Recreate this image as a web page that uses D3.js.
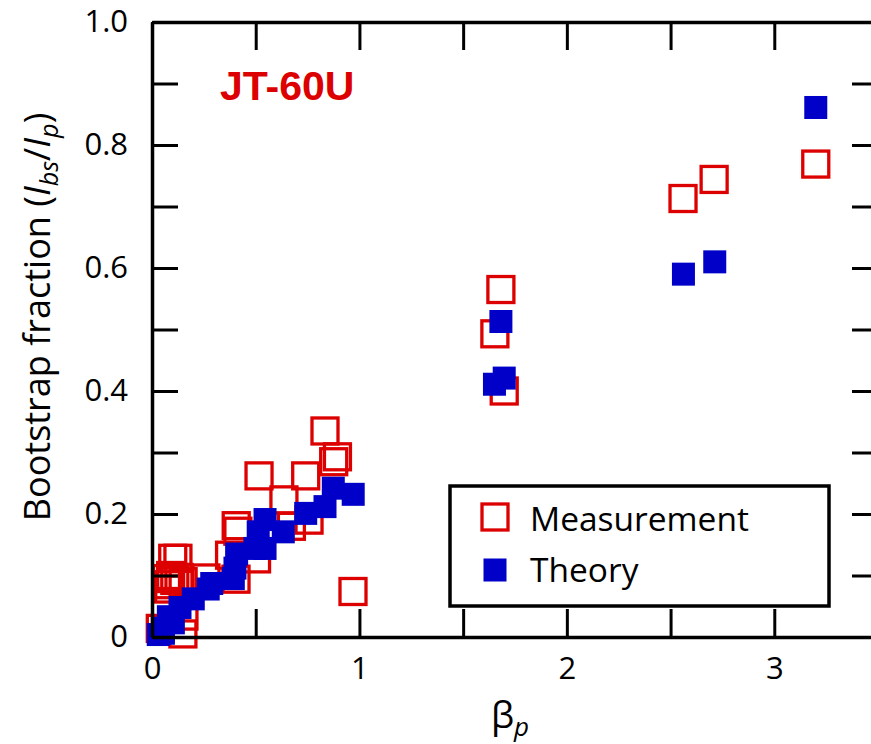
<!DOCTYPE html>
<html>
<head>
<meta charset="utf-8">
<script src="https://cdn.jsdelivr.net/npm/d3@7"></script>
<style>
  body { margin: 0; background: #fff; }
  svg { display: block; font-family: "Open Sans", sans-serif; }
</style>
</head>
<body>
<svg id="chart"></svg>
<script>
"use strict"

const CHART_WIDTH = 871;
const CHART_HEIGHT = 744;
const PLOT = { left: 152, right: 878, top: 22, bottom: 637 };
const RED = "#dd0000";
const BLUE = "#0000c8";
const FONT_SIZE = 31;

// Measurement (open red squares)
const measBeta = [3.20, 2.71, 2.56, 1.682, 1.653, 1.698,
    0.834, 0.894, 0.876, 0.741, 0.516, 0.636, 0.757, 0.672, 0.406, 0.414,
    0.374, 0.504, 0.405, 0.260, 0.969, 0.100, 0.125, 0.070, 0.090, 0.110,
    0.130, 0.080, 0.150, 0.154, 0.040, 0.149, 0.080];
const measFrac = [0.769, 0.744, 0.713, 0.565, 0.493, 0.400,
    0.335, 0.293, 0.285, 0.262, 0.262, 0.223, 0.190, 0.180, 0.181, 0.172,
    0.133, 0.127, 0.094, 0.096, 0.074, 0.128, 0.128, 0.095, 0.100, 0.092,
    0.097, 0.085, 0.090, 0.034, 0.014, 0.005, 0.078];

// Theory (filled blue squares)
const theoryBeta = [3.20, 2.713, 2.562, 1.682, 1.698, 1.651,
    0.970, 0.874, 0.834, 0.741, 0.545, 0.633, 0.512, 0.545, 0.496, 0.408,
    0.400, 0.392, 0.288, 0.271, 0.199, 0.135, 0.079, 0.103, 0.050, 0.055, 0.030];
const theoryFrac = [0.861, 0.610, 0.590, 0.513, 0.421, 0.411,
    0.232, 0.242, 0.212, 0.201, 0.191, 0.171, 0.171, 0.144, 0.144, 0.135,
    0.112, 0.095, 0.087, 0.078, 0.062, 0.048, 0.033, 0.023, 0.014, 0.006, 0.004];

const X_TICKS = [0, 0.5, 1, 1.5, 2, 2.5, 3];
const X_LABELS = [0, 1, 2, 3];
const Y_TICKS = [0, 0.1, 0.2, 0.3, 0.4, 0.5, 0.6, 0.7, 0.8, 0.9, 1.0];
const Y_LABELS = [0, 0.2, 0.4, 0.6, 0.8, 1.0];
const LEGEND_NAMES = ["Measurement", "Theory"];

const xScale = d3.scaleLinear([0, 3.5], [PLOT.left, PLOT.right]);
const yScale = d3.scaleLinear([0, 1], [PLOT.bottom, PLOT.top]);

function zip(xs, ys) {
    return xs.map((x, i) => ({ x: x, y: ys[i] }));
}

function styleAxis(g) {
    g.selectAll("path").attr("stroke", "#000").attr("stroke-width", 3.5);
    g.selectAll("line").attr("stroke", "#000").attr("stroke-width", 3);
    g.selectAll("text").attr("font-size", FONT_SIZE).attr("fill", "#000")
        .attr("font-family", "Open Sans, sans-serif");
}

function yFormat(d) {
    if (!Y_LABELS.some(v => Math.abs(v - d) < 1e-9)) return "";
    return d === 0 ? "0" : d.toFixed(1);
}

function xFormat(d) {
    return X_LABELS.includes(d) ? String(d) : "";
}

function drawAxes(svg) {
    svg.append("g")
        .attr("transform", `translate(${PLOT.left},0)`)
        .call(d3.axisLeft(yScale).tickValues(Y_TICKS).tickSize(-26).tickSizeOuter(0)
            .tickPadding(24).tickFormat(yFormat))
        .call(styleAxis);

    svg.append("g")
        .attr("transform", `translate(${PLOT.right},0)`)
        .call(d3.axisRight(yScale).tickValues(Y_TICKS).tickSize(-26).tickSizeOuter(0)
            .tickFormat(""))
        .call(styleAxis);

    svg.append("g")
        .attr("transform", `translate(0,${PLOT.top})`)
        .call(d3.axisTop(xScale).tickValues(X_TICKS).tickSize(-28).tickSizeOuter(0)
            .tickFormat(""))
        .call(styleAxis);

    svg.append("g")
        .attr("transform", `translate(0,${PLOT.bottom})`)
        .call(d3.axisBottom(xScale).tickValues(X_TICKS).tickSize(-28).tickSizeOuter(0)
            .tickPadding(20).tickFormat(xFormat))
        .call(styleAxis);
}

function drawPoints(svg) {
    const open = 26;
    svg.append("g").selectAll("rect")
        .data(zip(measBeta, measFrac))
        .join("rect")
        .attr("x", d => xScale(d.x) - open / 2)
        .attr("y", d => yScale(d.y) - open / 2)
        .attr("width", open)
        .attr("height", open)
        .attr("fill", "none")
        .attr("stroke", RED)
        .attr("stroke-width", 3.3);

    const filled = 23;
    svg.append("g").selectAll("rect")
        .data(zip(theoryBeta, theoryFrac))
        .join("rect")
        .attr("x", d => xScale(d.x) - filled / 2)
        .attr("y", d => yScale(d.y) - filled / 2)
        .attr("width", filled)
        .attr("height", filled)
        .attr("fill", BLUE);
}

function drawLabels(svg) {
    // y label, rotated
    const ySize = 36;
    const yl = svg.append("text")
        .attr("transform", "translate(50,317) rotate(-90)")
        .attr("text-anchor", "middle")
        .attr("font-size", ySize);
    yl.append("tspan").text("Bootstrap fraction (");
    yl.append("tspan").attr("font-style", "italic").text("I");
    yl.append("tspan").attr("font-style", "italic").attr("font-size", ySize * 0.7)
        .attr("dy", 8).text("bs");
    yl.append("tspan").attr("dy", -8).text("/");
    yl.append("tspan").attr("font-style", "italic").text("I");
    yl.append("tspan").attr("font-style", "italic").attr("font-size", ySize * 0.7)
        .attr("dy", 8).text("p");
    yl.append("tspan").attr("dy", -8).text(")");

    // x label
    const xl = svg.append("text")
        .attr("x", 510)
        .attr("y", 728)
        .attr("text-anchor", "middle")
        .attr("font-size", 37);
    xl.append("tspan").text("β");
    xl.append("tspan").attr("font-style", "italic").attr("font-size", 26)
        .attr("dy", 8).text("p");

    svg.append("text")
        .attr("x", 220)
        .attr("y", 100)
        .attr("font-family", "Liberation Sans, Arial, sans-serif")
        .attr("font-weight", "bold")
        .attr("font-size", 41)
        .attr("fill", RED)
        .text("JT-60U");
}

function drawLegend(svg) {
    const g = svg.append("g");
    g.append("rect")
        .attr("x", 450).attr("y", 486)
        .attr("width", 379).attr("height", 120)
        .attr("fill", "#fff")
        .attr("stroke", "#000")
        .attr("stroke-width", 3.5);

    g.append("rect")
        .attr("x", 495 - 13).attr("y", 517 - 13)
        .attr("width", 26).attr("height", 26)
        .attr("fill", "none").attr("stroke", RED).attr("stroke-width", 3.3);
    g.append("rect")
        .attr("x", 495 - 11.5).attr("y", 570 - 11.5)
        .attr("width", 23).attr("height", 23)
        .attr("fill", BLUE);

    g.selectAll("text.leg")
        .data(LEGEND_NAMES)
        .join("text")
        .attr("class", "leg")
        .attr("x", 530)
        .attr("y", (d, i) => 531 + i * 51)
        .attr("font-size", 33.5)
        .text(d => d);
}

function init() {
    const svg = d3.select("#chart")
        .attr("width", CHART_WIDTH)
        .attr("height", CHART_HEIGHT);
    drawPoints(svg);
    drawAxes(svg);
    drawLegend(svg);
    drawLabels(svg);
}

document.addEventListener("DOMContentLoaded", init);
</script>
</body>
</html>
